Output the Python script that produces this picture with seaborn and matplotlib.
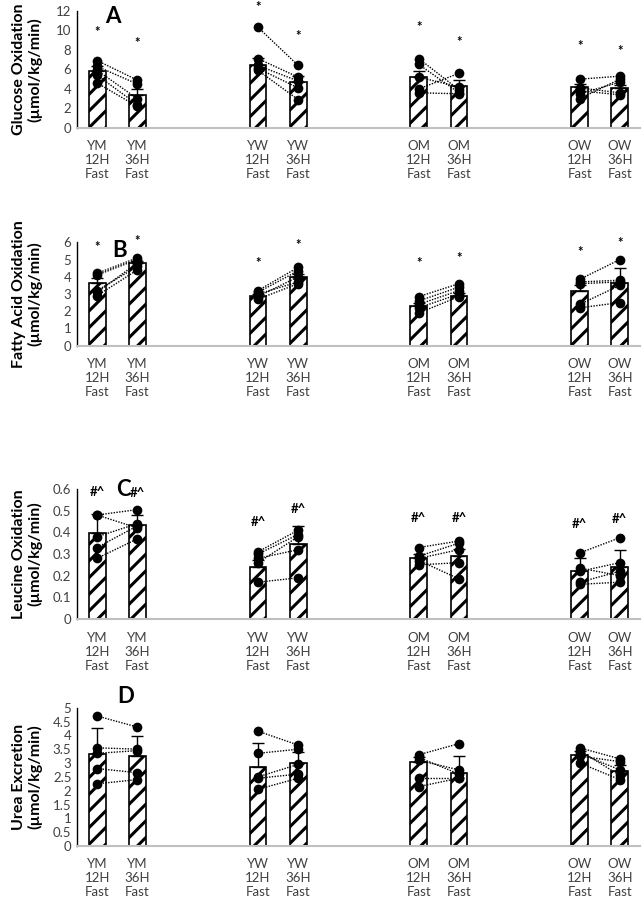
import numpy as np
import pandas as pd
import seaborn as sns
import matplotlib.pyplot as plt

# groups and fasting conditions
groups = ['YM', 'YW', 'OM', 'OW']
fasts = ['12H', '36H']

# Panel A - glucose oxidation
glu_mean = [5.85, 3.4, 6.45, 4.75, 5.2, 4.25, 4.15, 4.1]
glu_err = [0.45, 0.55, 0.7, 0.6, 0.6, 0.65, 0.35, 0.35]
glu_12h = [[6.9, 6.3, 5.9, 5.4, 4.6], [10.3, 7.1, 6.4, 6.1, 5.9],
           [7.1, 6.5, 5.2, 4.0, 3.6], [5.0, 4.1, 3.8, 3.5, 3.0]]
glu_36h = [[4.9, 4.5, 3.0, 2.4, 2.2], [6.4, 5.2, 4.8, 4.1, 2.9],
           [3.9, 3.6, 4.2, 5.6, 3.5], [5.3, 3.6, 3.4, 4.7, 5.0]]
glu_star = [9.8, 8.7, 12.4, 9.4, 10.3, 8.8, 8.4, 7.9]

# Panel B - fatty acid oxidation
fa_mean = [3.62, 4.78, 2.9, 3.97, 2.3, 2.9, 3.19, 3.66]
fa_err = [0.3, 0.15, 0.1, 0.2, 0.2, 0.15, 0.35, 0.83]
fa_12h = [[4.2, 4.1, 3.2, 3.1, 2.9], [3.2, 3.1, 3.0, 2.85, 2.7],
          [2.85, 2.6, 2.4, 2.2, 1.9], [3.85, 3.7, 3.6, 2.4, 2.2]]
fa_36h = [[5.1, 5.0, 4.6, 4.8, 4.4], [4.55, 4.35, 3.7, 4.0, 3.6],
          [3.6, 3.4, 3.2, 3.0, 2.85], [5.0, 3.8, 3.7, 3.5, 2.5]]
fa_star = [5.75, 6.1, 4.8, 5.85, 4.8, 5.1, 5.45, 5.95]

# Panel C - leucine oxidation
leu_mean = [0.395, 0.434, 0.242, 0.345, 0.28, 0.292, 0.222, 0.242]
leu_err = [0.09, 0.045, 0.03, 0.085, 0.02, 0.03, 0.058, 0.078]
leu_12h = [[0.48, 0.48, 0.38, 0.33, 0.28], [0.31, 0.30, 0.28, 0.26, 0.17],
           [0.33, 0.29, 0.28, 0.27, 0.25], [0.305, 0.235, 0.22, 0.17, 0.16]]
leu_36h = [[0.505, 0.42, 0.44, 0.43, 0.37], [0.41, 0.39, 0.32, 0.38, 0.19],
           [0.36, 0.35, 0.32, 0.185, 0.26], [0.375, 0.2, 0.26, 0.22, 0.17]]
leu_mark = [0.588, 0.58, 0.45, 0.506, 0.465, 0.465, 0.44, 0.46]

# Panel D - urea excretion
urea_mean = [3.31, 3.25, 2.87, 3.01, 3.02, 2.65, 3.29, 2.72]
urea_err = [0.94, 0.73, 0.84, 0.4, 0.2, 0.6, 0.15, 0.2]
urea_12h = [[4.7, 3.55, 3.35, 2.8, 2.25], [4.15, 3.35, 2.5, 2.45, 2.05],
            [3.3, 3.2, 3.1, 2.45, 2.15], [3.55, 3.45, 3.35, 3.25, 3.0]]
urea_36h = [[4.3, 3.5, 3.45, 2.65, 2.4], [3.65, 3.5, 2.95, 2.6, 2.45],
            [3.7, 2.6, 2.75, 2.45, 2.45], [3.15, 2.55, 2.75, 3.05, 2.4]]

sns.set_style("white")
plt.rcParams['font.family'] = ['Lato', 'DejaVu Sans']
plt.rcParams['hatch.linewidth'] = 2.2
plt.rcParams['hatch.color'] = 'black'

labels = [f'{g}\n{f}\nFast' for g in groups for f in fasts]
# two empty category slots between each group
order = []
for i, g in enumerate(groups):
    order += [f'{g}\n12H\nFast', f'{g}\n36H\nFast']
    if i < len(groups) - 1:
        order += [' ' * (2 * i + 1), ' ' * (2 * i + 2)]
xpos = [order.index(l) for l in labels]

panels = [
    dict(mean=glu_mean, err=glu_err, p12=glu_12h, p36=glu_36h, mark=glu_star, sym='*',
         ylabel='Glucose Oxidation\n(µmol/kg/min)', ticks=np.arange(0, 13, 2),
         letter='A', lpos=(0.38, 11.4), box=[10.7, 128]),
    dict(mean=fa_mean, err=fa_err, p12=fa_12h, p36=fa_36h, mark=fa_star, sym='*',
         ylabel='Fatty Acid Oxidation\n(µmol/kg/min)', ticks=np.arange(0, 7, 1),
         letter='B', lpos=(0.55, 5.5), box=[242.3, 345.7]),
    dict(mean=leu_mean, err=leu_err, p12=leu_12h, p36=leu_36h, mark=leu_mark, sym='#^',
         ylabel='Leucine Oxidation\n(µmol/kg/min)', ticks=np.round(np.arange(0, 0.61, 0.1), 1),
         letter='C', lpos=(0.65, 0.6), box=[489, 619]),
    dict(mean=urea_mean, err=urea_err, p12=urea_12h, p36=urea_36h, mark=None, sym='',
         ylabel='Urea Excretion\n(µmol/kg/min)', ticks=np.arange(0, 5.01, 0.5),
         letter='D', lpos=(0.7, 5.4), box=[707.7, 846]),
]

W, H = 643, 900
fig = plt.figure(figsize=(W / 100, H / 100), dpi=100)

for p in panels:
    top, bottom = p['box']
    ax = fig.add_axes([77 / W, 1 - bottom / H, 563 / W, (bottom - top) / H])

    # bars
    sns.barplot(x=labels, y=p['mean'], order=order, color='white', edgecolor='black',
                linewidth=1.2, hatch='//', width=0.42, errorbar=None, saturation=1,
                ax=ax, zorder=2)
    # upward error bars only
    ax.errorbar(xpos, p['mean'], yerr=[np.zeros(8), p['err']], fmt='none',
                ecolor='black', elinewidth=1, capsize=4, capthick=1, zorder=3)

    # individual subjects, paired between fasts
    rows = []
    for gi, g in enumerate(groups):
        for a, b in zip(p['p12'][gi], p['p36'][gi]):
            x1, x2 = xpos[2 * gi], xpos[2 * gi + 1]
            ax.plot([x1, x2], [a, b], color='black', lw=1, ls=(0, (1, 1)), zorder=4)
            rows.append((labels[2 * gi], a))
            rows.append((labels[2 * gi + 1], b))
    df = pd.DataFrame(rows, columns=['label', 'value'])
    sns.stripplot(data=df, x='label', y='value', order=order, jitter=False,
                  color='black', size=7, ax=ax, zorder=5)

    # significance marks
    if p['mark'] is not None:
        for x, y in zip(xpos, p['mark']):
            ax.text(x, y, p['sym'], ha='center', va='center', fontsize=9.5,
                    fontweight='bold', color='black')

    ax.text(*p['lpos'], p['letter'], ha='center', va='center', fontsize=16,
            fontweight='bold', color='black')

    ax.set_xlim(-0.5, len(order) - 0.5)
    ax.set_ylim(0, p['ticks'][-1])
    ax.set_yticks(p['ticks'])
    ax.set_yticklabels([f'{t:g}' for t in p['ticks']])
    ax.set_xlabel('')
    ax.set_ylabel(p['ylabel'], fontsize=11.5, fontweight='bold', color='black',
                  linespacing=1.05)
    ax.yaxis.set_label_coords(-0.062, 0.5)
    ax.tick_params(axis='y', labelsize=9.5, colors='#404040', length=0, pad=4)
    ax.tick_params(axis='x', labelsize=9.5, colors='#404040', length=0, pad=9)
    for t in ax.get_xticklabels():
        t.set_linespacing(1.2)
    sns.despine(ax=ax)
    ax.spines['left'].set_color('black')
    ax.spines['left'].set_linewidth(1)
    ax.spines['bottom'].set_color('#c0c0c0')
    ax.spines['bottom'].set_linewidth(1.5)

fig.savefig('out.png', dpi=100)
